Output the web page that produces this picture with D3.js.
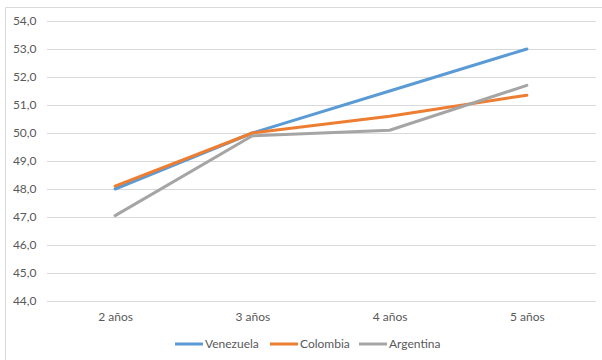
<!DOCTYPE html>
<html>
<head>
<meta charset="utf-8">
<script src="https://cdn.jsdelivr.net/npm/d3@7/dist/d3.min.js"></script>
<style>
  html, body { margin: 0; padding: 0; background: #fff; }
  svg { display: block; }
  text { font-family: "Lato", "Open Sans", sans-serif; fill: #595959; }
</style>
</head>
<body>
<svg id="chart" width="602" height="360"></svg>
<script>
const categories = ["2 años", "3 años", "4 años", "5 años"];
const venezuela = [48.0, 50.0, 51.5, 53.0];
const colombia  = [48.1, 50.0, 50.6, 51.35];
const argentina = [47.05, 49.9, 50.1, 51.7];
const yTicks = [44, 45, 46, 47, 48, 49, 50, 51, 52, 53, 54];

const series = [
  { name: "Venezuela", values: venezuela, color: "#5B9BD5" },
  { name: "Colombia",  values: colombia,  color: "#ED7D31" },
  { name: "Argentina", values: argentina, color: "#A5A5A5" }
];

const svg = d3.select("#chart");
const W = 602, H = 360;
const plot = { left: 46.5, right: 595.5, top: 21, bottom: 301 };

// chart frame: top and left edges (the rest falls outside the view)
svg.append("path")
  .attr("d", `M5.5,${H} V7.5 H${W}`)
  .attr("fill", "none").attr("stroke", "#D9D9D9").attr("stroke-width", 1);

const x = d3.scalePoint().domain(categories)
  .range([plot.left, plot.right]).padding(0.5);
const y = d3.scaleLinear().domain([44, 54]).range([plot.bottom, plot.top]);

const fmt = d3.formatLocale({ decimal: ",", thousands: ".", grouping: [3], currency: ["", "€"] }).format(".1f");

// horizontal gridlines + value labels
const yAxis = d3.axisLeft(y).tickValues(yTicks).tickFormat(fmt)
  .tickSize(-(plot.right - plot.left)).tickPadding(10);
const gy = svg.append("g").attr("transform", `translate(${plot.left},0)`).call(yAxis);
gy.select(".domain").remove();
gy.selectAll(".tick line").attr("stroke", "#D9D9D9").attr("stroke-width", 1)
  .attr("shape-rendering", "crispEdges");
gy.selectAll(".tick text").attr("font-size", 12).attr("fill", "#595959")
  .attr("font-family", "Lato, 'Open Sans', sans-serif");

// category labels
const xAxis = d3.axisBottom(x).tickSize(0).tickPadding(11);
const gx = svg.append("g").attr("transform", `translate(0,${plot.bottom})`).call(xAxis);
gx.select(".domain").remove();
gx.selectAll(".tick text").attr("font-size", 12).attr("fill", "#595959")
  .attr("font-family", "Lato, 'Open Sans', sans-serif");

// series lines
const line = d3.line().x((d, i) => x(categories[i])).y(d => y(d));
svg.append("g").selectAll("path").data(series).join("path")
  .attr("d", s => line(s.values))
  .attr("fill", "none")
  .attr("stroke", s => s.color)
  .attr("stroke-width", 3)
  .attr("stroke-linejoin", "round")
  .attr("stroke-linecap", "round");

// legend
const legendX = [175, 270, 359];
const lg = svg.append("g").attr("transform", "translate(0,344)");
series.forEach((s, i) => {
  const g = lg.append("g").attr("transform", `translate(${legendX[i]},0)`);
  g.append("line").attr("x1", 0).attr("x2", 28).attr("y1", 0).attr("y2", 0)
    .attr("stroke", s.color).attr("stroke-width", 3);
  g.append("text").attr("x", 30).attr("y", 4).attr("font-size", 12).text(s.name);
});
</script>
</body>
</html>
